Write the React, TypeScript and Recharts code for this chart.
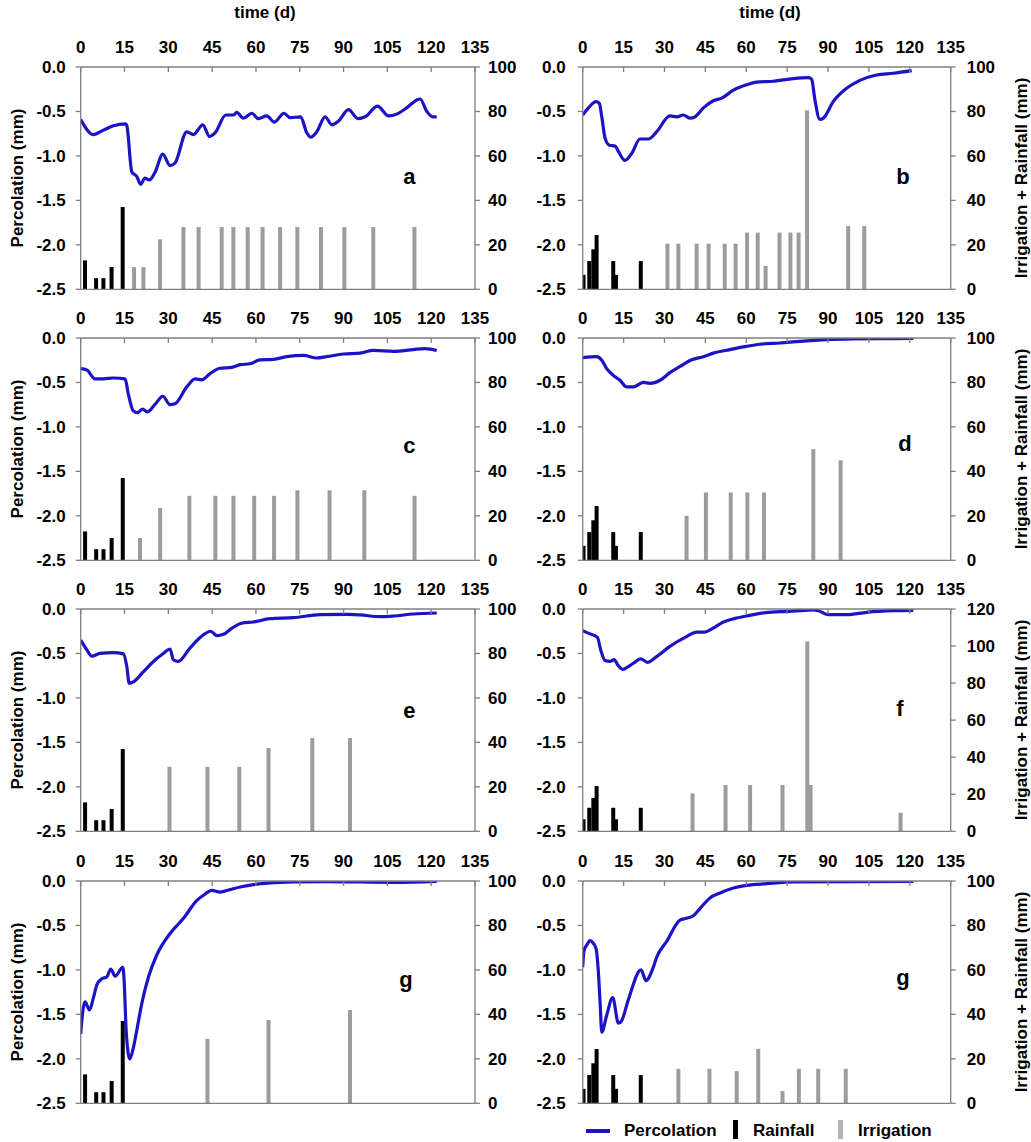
import React from 'react';
import { ComposedChart, Line, Bar, XAxis, YAxis, ReferenceLine, ReferenceDot } from 'recharts';

const FONT = '"Liberation Sans", Arial, Helvetica, sans-serif';
const BLUE = '#1c14c4';
const GRAY = '#9c9c9c';
const AXIS = '#7f7f7f';

const xTicks = [0, 15, 30, 45, 60, 75, 90, 105, 120, 135];
const percTicks = [-2.5, -2, -1.5, -1, -0.5, 0];
const amtTicks100 = [0, 20, 40, 60, 80, 100];
const amtTicks120 = [0, 20, 40, 60, 80, 100, 120];

// Rainfall (same weather for each column)
const rainDaysL = [1.5, 5.3, 7.8, 10.6, 14.4];
const rainValsL = [13, 5, 5, 10, 37];
const rainDaysR = [0.3, 2.4, 3.9, 5.1, 11.2, 12.2, 21.3];
const rainValsR = [6.5, 12.7, 18, 24.4, 12.7, 6.5, 12.7];

// Panel a
const aT = [0, 4.3, 7.8, 11.2, 15.4, 15.8, 17.5, 19.2, 20.5, 22, 23.5, 25.5, 28.1, 30.6, 32.3, 36.3, 38.6, 41.8, 44.1, 46, 49.7, 52.3, 53.4, 55.7, 58.6, 60.8, 63.7, 66.3, 69.6, 71.7, 75.3, 77.4, 78.8, 80.8, 83.7, 86, 88.2, 91.7, 94.9, 97.4, 101.6, 105.4, 108.2, 111.6, 115.1, 116.2, 118.5, 120.5, 121.9];
const aP = [-0.59, -0.76, -0.71, -0.66, -0.64, -0.66, -1.18, -1.23, -1.32, -1.25, -1.27, -1.18, -0.98, -1.11, -1.08, -0.73, -0.76, -0.65, -0.78, -0.74, -0.54, -0.54, -0.51, -0.575, -0.52, -0.58, -0.55, -0.62, -0.52, -0.57, -0.56, -0.74, -0.79, -0.73, -0.56, -0.65, -0.61, -0.48, -0.58, -0.56, -0.44, -0.55, -0.53, -0.46, -0.37, -0.36, -0.5, -0.56, -0.56];
const aIrrDays = [18.3, 21.5, 27.2, 35.2, 40.4, 48.3, 52.3, 57.2, 62.3, 68.3, 74.2, 82.3, 90.3, 100.2, 114.3];
const aIrrVals = [10, 10, 22.5, 28, 28, 28, 28, 28, 28, 28, 28, 28, 28, 28, 28];

// Panel b
const bT = [0, 2.1, 4.9, 6.1, 7, 8.2, 9.8, 11.9, 13.1, 15.5, 18, 21, 24.1, 27.1, 32, 34.5, 36.9, 39.4, 41.2, 44.3, 47.9, 51, 55.3, 60.1, 63.8, 69.9, 77.3, 82.8, 84, 85.2, 87, 88.3, 91.9, 96.8, 101.7, 107.8, 113.9, 120.7];
const bP = [-0.54, -0.46, -0.39, -0.41, -0.56, -0.8, -0.88, -0.89, -0.95, -1.05, -0.97, -0.81, -0.81, -0.73, -0.55, -0.56, -0.54, -0.575, -0.56, -0.46, -0.38, -0.35, -0.26, -0.2, -0.17, -0.16, -0.13, -0.12, -0.14, -0.37, -0.59, -0.575, -0.39, -0.24, -0.15, -0.09, -0.07, -0.04];
const bIrrDays = [31.1, 35.1, 41.8, 46.2, 52.1, 56.1, 60.3, 64.2, 67.1, 72.2, 76.2, 79.2, 82.3, 97.4, 103.3];
const bIrrVals = [20.5, 20.5, 20.5, 20.5, 20.5, 20.5, 25.5, 25.5, 10.5, 25.5, 25.5, 25.5, 80.5, 28.5, 28.5];

// Panel c
const cT = [0, 2.1, 4.9, 7.8, 11.2, 15.2, 16.3, 18, 19.4, 21.2, 22.8, 25.5, 28.1, 30.6, 32.3, 36.3, 39.2, 41.4, 44.3, 47.7, 51.7, 54.6, 58, 61.4, 66, 70.5, 76.3, 80.8, 84.2, 90, 95.7, 100.2, 107.1, 113.9, 117.9, 121.9];
const cP = [-0.345, -0.36, -0.46, -0.46, -0.45, -0.46, -0.63, -0.82, -0.84, -0.8, -0.83, -0.745, -0.655, -0.75, -0.74, -0.55, -0.46, -0.47, -0.4, -0.34, -0.33, -0.3, -0.29, -0.245, -0.24, -0.21, -0.195, -0.225, -0.21, -0.18, -0.17, -0.14, -0.15, -0.13, -0.12, -0.14];
const cIrrDays = [20.3, 27.2, 37.2, 46.1, 52.3, 59.4, 66.2, 74.2, 85.2, 97.1, 114.3];
const cIrrVals = [10, 23.5, 29, 29, 29, 29, 29, 31.5, 31.5, 31.5, 29];

// Panel d
const dT = [0, 5.1, 7, 8.8, 11.2, 13.7, 16.1, 18.6, 22.2, 24.7, 28.4, 32, 35.7, 40, 44.3, 47.9, 54, 60.1, 65, 72.4, 79.7, 89.5, 99.3, 113.9, 121.3];
const dP = [-0.22, -0.21, -0.25, -0.345, -0.42, -0.475, -0.55, -0.55, -0.5, -0.51, -0.475, -0.39, -0.32, -0.245, -0.21, -0.17, -0.13, -0.094, -0.07, -0.056, -0.037, -0.019, -0.011, -0.007, -0.004];
const dIrrDays = [38.1, 45.2, 54.3, 60.4, 66.5, 84.6, 94.6];
const dIrrVals = [20, 30.5, 30.5, 30.5, 30.5, 50, 45];

// Panel e
const eT = [0, 2.1, 3.8, 6.6, 11.2, 14.6, 15.8, 16.6, 18, 21.5, 24.9, 28.3, 30.6, 31.7, 33.4, 37.4, 40.9, 44.5, 46.6, 48.9, 51.7, 55.1, 59.1, 64.8, 72.8, 82, 91.1, 95.7, 102.5, 107.1, 113.9, 121.9];
const eP = [-0.35, -0.46, -0.53, -0.5, -0.49, -0.505, -0.65, -0.835, -0.82, -0.705, -0.59, -0.5, -0.45, -0.57, -0.59, -0.44, -0.32, -0.25, -0.3, -0.285, -0.217, -0.16, -0.146, -0.109, -0.097, -0.064, -0.06, -0.067, -0.086, -0.079, -0.056, -0.045];
const eIrrDays = [30.4, 43.4, 54.3, 64.3, 79.3, 92.2];
const eIrrVals = [29, 29, 29, 37.5, 42, 42];

// Panel f
const fT = [0, 2.7, 5.4, 6.6, 8.2, 10, 11.5, 13.1, 14.7, 16.1, 18.6, 21.3, 23.7, 27.1, 32, 38.1, 41.8, 44.5, 47.3, 51.6, 55.9, 60.1, 65, 72.4, 79.7, 84.6, 86.4, 90.1, 96.8, 104.2, 113.9, 121.3];
const fP = [-0.243, -0.28, -0.32, -0.46, -0.58, -0.59, -0.57, -0.64, -0.68, -0.66, -0.61, -0.56, -0.6, -0.535, -0.42, -0.31, -0.26, -0.26, -0.225, -0.146, -0.105, -0.079, -0.049, -0.03, -0.019, -0.011, -0.019, -0.064, -0.064, -0.037, -0.019, -0.015];
const fIrrDays = [40.3, 52.4, 61.4, 73.3, 82.4, 83.6, 116.6];
const fIrrVals = [20.5, 25, 25, 25, 102.5, 25, 10];

// Panel g (left)
const gT = [0, 0.3, 1.5, 3, 4.3, 5.5, 7.2, 8.9, 10.3, 11.8, 14.4, 14.8, 15.6, 16.8, 18, 19.2, 20.9, 23.2, 26, 30.6, 35.2, 39.7, 42, 44.9, 47.7, 51.1, 54.6, 59.1, 64.8, 72.8, 84.2, 107.1, 121.9];
const gP = [-1.72, -1.6, -1.36, -1.45, -1.32, -1.17, -1.1, -1.08, -0.99, -1.07, -0.97, -1.08, -1.7, -2.0, -1.88, -1.68, -1.38, -1.08, -0.835, -0.59, -0.42, -0.22, -0.16, -0.105, -0.124, -0.097, -0.067, -0.041, -0.022, -0.011, -0.007, -0.015, -0.004];
const gIrrDays = [43.4, 64.3, 92.2];
const gIrrVals = [29, 37.5, 42];

// Panel g (right)
const hT = [0, 0.5, 1.5, 2.7, 3.9, 4.9, 5.7, 6.4, 7, 8.8, 11, 13.1, 14.3, 16.7, 21.4, 23.2, 25.9, 27.1, 30.8, 35.7, 38.1, 40.6, 43, 46.7, 50.4, 55.3, 60.1, 67.5, 77.3, 121.3];
const hP = [-0.97, -0.78, -0.72, -0.67, -0.7, -0.76, -1.0, -1.38, -1.7, -1.51, -1.31, -1.6, -1.57, -1.34, -1.0, -1.12, -0.97, -0.86, -0.68, -0.44, -0.42, -0.39, -0.31, -0.19, -0.135, -0.079, -0.049, -0.03, -0.011, -0.004];
const hIrrDays = [35.1, 46.5, 56.5, 64.4, 73.3, 79.3, 86.4, 96.5];
const hIrrVals = [15.5, 15.5, 14.5, 24.5, 5.5, 15.5, 15.5, 15.5];

function buildRows(lt: number[], lp: number[], rd: number[], rv: number[], idays: number[], ivals: number[]) {
  const m = new Map<number, any>();
  const get = (t: number) => {
    if (!m.has(t)) m.set(t, { t });
    return m.get(t);
  };
  lt.forEach((t, k) => { get(t).p = lp[k]; });
  rd.forEach((t, k) => { get(t).r = rv[k]; });
  idays.forEach((t, k) => { get(t).i = ivals[k]; });
  return Array.from(m.values()).sort((a, b) => a.t - b.t);
}

const makeBarShape = (w: number) => (props: any) => {
  const { x, y, width, height, fill } = props;
  if (height == null || !(height > 0.01)) return <g />;
  const cx = x + (width || 0) / 2;
  return <rect x={cx - w / 2} y={y} width={w} height={height} fill={fill} />;
};
const rainShape = makeBarShape(4);
const irrShape = makeBarShape(4);

const tickStyle = { fontSize: 17, fontWeight: 'bold', fill: '#000', fontFamily: FONT };
const PLOT_H = 222.3;
const BOTTOM_PAD = 16;

type PanelProps = {
  side: 'L' | 'R';
  plotTop: number;
  lt: number[]; lp: number[];
  rd: number[]; rv: number[];
  idays: number[]; ivals: number[];
  rTicks: number[];
  letter: string; lx: number; ly: number;
};

function Panel(props: PanelProps) {
  const { side, plotTop, lt, lp, rd, rv, idays, ivals, rTicks, letter, lx, ly } = props;
  const isL = side === 'L';
  const left = isL ? 0 : 520;
  const width = isL ? 520 : 511;
  const yLeftW = isL ? 80.7 : 62.7;
  const yRightW = isL ? 45 : 80.3;
  const xH = 40;
  const height = xH + PLOT_H + BOTTOM_PAD;
  const data = buildRows(lt, lp, rd, rv, idays, ivals);
  const rMax = rTicks[rTicks.length - 1];
  return (
    <div style={{ position: 'absolute', left, top: plotTop - xH, width, height }}>
      <ComposedChart
        width={width}
        height={height}
        data={data}
        margin={{ top: 0, right: 0, bottom: BOTTOM_PAD, left: 0 }}
        barGap={0}
        barCategoryGap={0}
        style={{ fontFamily: FONT }}
      >
        <XAxis
          dataKey="t"
          type="number"
          domain={[0, 135]}
          ticks={xTicks}
          orientation="top"
          height={xH}
          interval={0}
          allowDataOverflow
          axisLine={{ stroke: AXIS, strokeWidth: 1.3 }}
          tickLine={{ stroke: AXIS, strokeWidth: 1.3 }}
          tickSize={-5}
          tickMargin={19}
          tick={tickStyle}
        />
        <YAxis
          yAxisId="p"
          orientation="left"
          domain={[-2.5, 0]}
          ticks={percTicks}
          width={yLeftW}
          interval={0}
          allowDataOverflow
          tickFormatter={(v: number) => v.toFixed(1)}
          axisLine={{ stroke: AXIS, strokeWidth: 1.3 }}
          tickLine={{ stroke: AXIS, strokeWidth: 1.3 }}
          tickSize={5}
          tickMargin={isL ? 10 : 12}
          tick={tickStyle}
        />
        <YAxis
          yAxisId="r"
          orientation="right"
          domain={[0, rMax]}
          ticks={rTicks}
          width={yRightW}
          interval={0}
          allowDataOverflow
          axisLine={{ stroke: AXIS, strokeWidth: 1.3 }}
          tickLine={{ stroke: AXIS, strokeWidth: 1.3 }}
          tickSize={5}
          tickMargin={isL ? 8 : 11}
          tick={tickStyle}
        />
        <ReferenceLine yAxisId="p" y={-2.5} stroke={AXIS} strokeWidth={1.3} />
        <Bar yAxisId="r" dataKey="r" stackId="s" fill="#000" shape={rainShape} isAnimationActive={false} />
        <Bar yAxisId="r" dataKey="i" stackId="s" fill={GRAY} shape={irrShape} isAnimationActive={false} />
        <Line
          yAxisId="p"
          dataKey="p"
          type="monotone"
          stroke={BLUE}
          strokeWidth={3.2}
          dot={false}
          connectNulls
          isAnimationActive={false}
        />
        <ReferenceDot
          yAxisId="p"
          x={lx}
          y={ly}
          r={0}
          fill="none"
          stroke="none"
          label={{ value: letter, position: 'center', fontSize: 22, fontWeight: 'bold', fill: '#000', fontFamily: FONT }}
        />
      </ComposedChart>
    </div>
  );
}

const TOPS = [67, 337.7, 609, 880.7];

const titleStyle: React.CSSProperties = {
  position: 'absolute',
  fontFamily: FONT,
  fontWeight: 'bold',
  fontSize: 17,
  lineHeight: '20px',
  whiteSpace: 'nowrap',
  color: '#000',
};

function VTitle({ text, cx, cy }: { text: string; cx: number; cy: number }) {
  return (
    <div style={{ ...titleStyle, left: cx, top: cy, transform: 'translate(-50%, -50%) rotate(-90deg)' }}>{text}</div>
  );
}

export default function App() {
  return (
    <div style={{ position: 'absolute', left: 0, top: 0, width: 1031, height: 1142, background: '#fff', fontFamily: FONT }}>
      <div style={{ ...titleStyle, left: 265, top: 3, transform: 'translateX(-50%)' }}>time (d)</div>
      <div style={{ ...titleStyle, left: 770, top: 3, transform: 'translateX(-50%)' }}>time (d)</div>

      <Panel side="L" plotTop={TOPS[0]} lt={aT} lp={aP} rd={rainDaysL} rv={rainValsL} idays={aIrrDays} ivals={aIrrVals} rTicks={amtTicks100} letter="a" lx={112.5} ly={-1.23} />
      <Panel side="R" plotTop={TOPS[0]} lt={bT} lp={bP} rd={rainDaysR} rv={rainValsR} idays={bIrrDays} ivals={bIrrVals} rTicks={amtTicks100} letter="b" lx={117.5} ly={-1.23} />
      <Panel side="L" plotTop={TOPS[1]} lt={cT} lp={cP} rd={rainDaysL} rv={rainValsL} idays={cIrrDays} ivals={cIrrVals} rTicks={amtTicks100} letter="c" lx={112.5} ly={-1.2} />
      <Panel side="R" plotTop={TOPS[1]} lt={dT} lp={dP} rd={rainDaysR} rv={rainValsR} idays={dIrrDays} ivals={dIrrVals} rTicks={amtTicks100} letter="d" lx={118.2} ly={-1.18} />
      <Panel side="L" plotTop={TOPS[2]} lt={eT} lp={eP} rd={rainDaysL} rv={rainValsL} idays={eIrrDays} ivals={eIrrVals} rTicks={amtTicks100} letter="e" lx={112.5} ly={-1.14} />
      <Panel side="R" plotTop={TOPS[2]} lt={fT} lp={fP} rd={rainDaysR} rv={rainValsR} idays={fIrrDays} ivals={fIrrVals} rTicks={amtTicks120} letter="f" lx={116.4} ly={-1.11} />
      <Panel side="L" plotTop={TOPS[3]} lt={gT} lp={gP} rd={rainDaysL} rv={rainValsL} idays={gIrrDays} ivals={gIrrVals} rTicks={amtTicks100} letter="g" lx={111.4} ly={-1.1} />
      <Panel side="R" plotTop={TOPS[3]} lt={hT} lp={hP} rd={rainDaysR} rv={rainValsR} idays={hIrrDays} ivals={hIrrVals} rTicks={amtTicks100} letter="g" lx={117.5} ly={-1.08} />

      {TOPS.map((t, k) => (
        <VTitle key={'pl' + k} text="Percolation (mm)" cx={18} cy={t + PLOT_H / 2} />
      ))}
      {TOPS.map((t, k) => (
        <VTitle key={'ir' + k} text="Irrigation + Rainfall (mm)" cx={1022} cy={t + PLOT_H / 2} />
      ))}

      {/* Legend */}
      <div style={{ position: 'absolute', left: 586, top: 1129, width: 24, height: 4, background: BLUE }} />
      <div style={{ ...titleStyle, left: 624, top: 1121 }}>Percolation</div>
      <div style={{ position: 'absolute', left: 733, top: 1120, width: 4.5, height: 19, background: '#000' }} />
      <div style={{ ...titleStyle, left: 753, top: 1121 }}>Rainfall</div>
      <div style={{ position: 'absolute', left: 838, top: 1120, width: 5, height: 19, background: '#b4b4b4' }} />
      <div style={{ ...titleStyle, left: 858, top: 1121 }}>Irrigation</div>
    </div>
  );
}
